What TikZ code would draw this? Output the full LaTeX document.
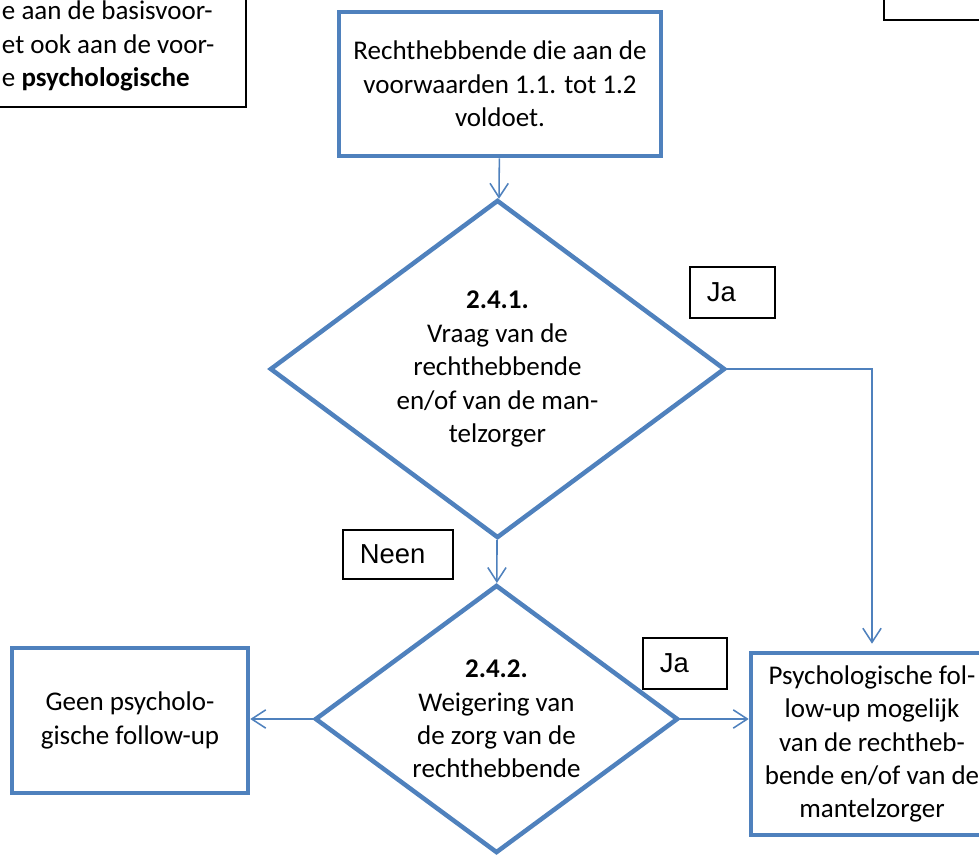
\documentclass[tikz,border=0pt]{standalone}
\usepackage{fontspec}
\setmainfont{Carlito}
\newfontfamily\arialfont{Liberation Sans}
\usepackage{xcolor}
\usetikzlibrary{shapes.geometric, arrows.meta, positioning, calc}
\definecolor{flowblue}{HTML}{4F81BD}

\begin{document}
\begin{tikzpicture}[x=0.025cm, y=-0.025cm, font=\fontsize{19.2}{23.8}\selectfont]
\tikzstyle{box} = [rectangle, draw=flowblue, line width=3.2pt, align=center, inner sep=0pt]
\tikzstyle{choice} = [diamond, draw=flowblue, line width=3.2pt, align=center, inner sep=0pt]
\tikzstyle{tag} = [rectangle, draw=black, line width=0.9pt, align=left, inner xsep=0.42cm,
    font=\arialfont\fontsize{19.5}{22}\selectfont]
\tikzstyle{note} = [rectangle, draw=black, line width=0.9pt]
\tikzstyle{arrow} = [draw=flowblue, line width=1.1pt, -{Straight Barb[length=10pt,width=13pt]}]

\useasboundingbox (0,0) rectangle (979,855);
\clip (0,0) rectangle (979,855);

% cut-off boxes at the top
\node (prevbox) [note, minimum width=9.9cm, minimum height=3.675cm] at (48,33.5) {};
\node (prevtext) [anchor=west, align=left] at (-3,46) {e aan de basisvoor-\\et ook aan de voor-\\e \textbf{psychologische}};
\node (otherbox) [note, minimum width=5.4cm, minimum height=2cm] at (992,-20) {};

\node (start) [box, minimum width=8.05cm, minimum height=3.6cm] at (500,84) {Rechthebbende die aan de\\voorwaarden 1.1. tot 1.2\\voldoet.};

\node (choiceA) [choice, aspect=1.35, minimum width=11.375cm, minimum height=8.45cm] at (497.5,369) {\textbf{2.4.1.}\\Vraag van de\\rechthebbende\\en/of van de man-\\telzorger};

\node (choiceB) [choice, aspect=1.35, minimum width=9.075cm, minimum height=6.7cm] at (496.5,719) {\textbf{2.4.2.}\\Weigering van\\de zorg van de\\rechthebbende};

\node (nofollow) [box, minimum width=5.9cm, minimum height=3.625cm] at (130,720.5) {Geen psycholo-\\gische follow-up};
\node (followup) [box, minimum width=6.05cm, minimum height=4.55cm] at (872,744) {Psychologische fol-\\low-up mogelijk\\van de rechtheb-\\bende en/of van de\\mantelzorger};

\node (yesA) [tag, text width=1.285cm, minimum height=1.275cm] at (732.5,292.5) {Ja};
\node (noA) [tag, text width=1.91cm, minimum height=1.225cm] at (398,554.5) {Neen};
\node (yesB) [tag, text width=1.26cm, minimum height=1.275cm] at (685,663.5) {Ja};

\draw [arrow] (start) -- (choiceA);
\draw [arrow] (choiceA) -- (choiceB);
\draw [arrow, shorten >=5pt] (choiceA.east) -| (followup.north);
\draw [arrow] (choiceB.west) -- (choiceB.west -| nofollow.east);
\draw [arrow] (choiceB.east) -- (choiceB.east -| followup.west);

\end{tikzpicture}
\end{document}
